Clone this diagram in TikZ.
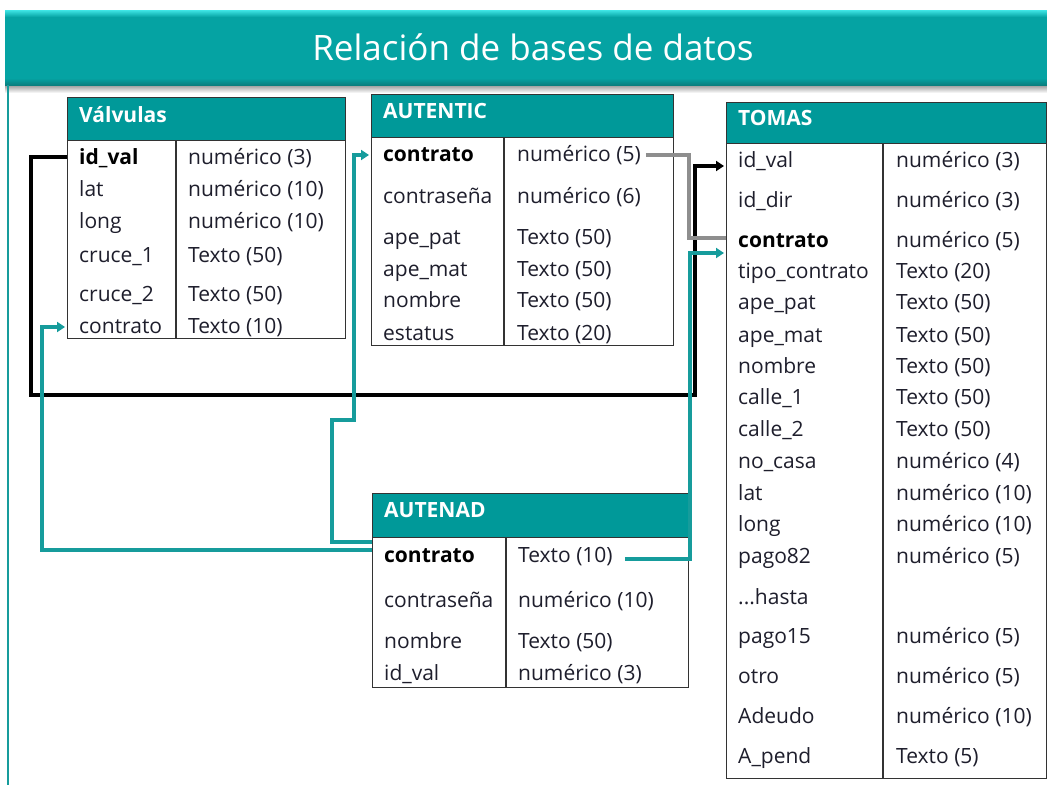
\documentclass[tikz,border=0pt]{standalone}
\usepackage{fontspec}
\setmainfont{Open Sans}
\usetikzlibrary{arrows.meta}
\definecolor{teal1}{HTML}{009999}
\definecolor{titlebar}{HTML}{05A3A3}
\definecolor{titlehi}{HTML}{3FE6E6}
\definecolor{titlelo}{HTML}{0A7F7F}
\definecolor{conn}{HTML}{169C9C}
\definecolor{txt}{HTML}{1E1E2C}
\definecolor{grayc}{HTML}{8E8E8E}
\begin{document}
\begin{tikzpicture}[x=1pt,y=-1pt,
  tbox/.style={draw=black!80, line width=1.3pt, fill=white, anchor=north west, inner sep=0pt},
  thead/.style={draw=black!80, line width=1.3pt, fill=teal1, anchor=north west, inner sep=0pt},
  htext/.style={anchor=base west, inner sep=0pt, text=white, font=\fontsize{21}{24}\selectfont\bfseries},
  fld/.style={anchor=base west, inner sep=0pt, text=txt, font=\fontsize{21}{24}\selectfont},
  keyfld/.style={anchor=base west, inner sep=0pt, text=black, font=\fontsize{21}{24}\selectfont\bfseries},
  tline/.style={draw=black!80, line width=1.3pt},
  link/.style={line width=3.6pt},
  tip/.style={-{Triangle[length=8pt,width=10pt]}, shorten >=2pt},
]
\useasboundingbox (0,0) rectangle (1047,785);
% title bar
\shade[top color=black!40, bottom color=white] (5,85) rectangle (1047,93);
\fill[titlebar] (5,10) rectangle (1047,85);
\shade[top color=titlehi, bottom color=titlebar] (5,10) rectangle (1047,17);
\shade[top color=titlebar, bottom color=titlelo] (5,78) rectangle (1047,85);
\node[text=white, font=\fontsize{35}{40}\selectfont, inner sep=0pt] (title) at (533,47) {Relación de bases de datos};
\draw[conn, line width=1.5pt] (8,85) -- (8,785);

% ---------- Válvulas
\node[tbox, minimum width=278pt, minimum height=241pt] (valv) at (67,97) {};
\node[thead, minimum width=278pt, minimum height=43pt] (valvh) at (67,97) {};
\node[htext] (valvt) at (79,122) {Válvulas};
\draw[tline] (176,140) -- (176,338);
\node[keyfld] (v-f1) at (79,164) {id\_val};
\node[fld] (v-t1) at (188,164) {numérico (3)};
\foreach \yy/\a/\b [count=\i from 2] in {196/lat/numérico (10), 228/long/numérico (10), 262/cruce\_1/Texto (50), 301/cruce\_2/Texto (50), 333/contrato/Texto (10)}{
  \node[fld] (v-f\i) at (79,\yy) {\a};
  \node[fld] (v-t\i) at (188,\yy) {\b};
}

% ---------- AUTENTIC
\node[tbox, minimum width=302pt, minimum height=251pt] (autentic) at (371,94) {};
\node[thead, minimum width=302pt, minimum height=43pt] (autentich) at (371,94) {};
\node[htext] (autentict) at (383,118) {AUTENTIC};
\draw[tline] (504,137) -- (504,345);
\node[keyfld] (a-f1) at (383,161) {contrato};
\node[fld] (a-t1) at (517,161) {numérico (5)};
\foreach \yy/\a/\b [count=\i from 2] in {203/contraseña/numérico (6), 244/ape\_pat/Texto (50), 276/ape\_mat/Texto (50), 307/nombre/Texto (50), 340/estatus/Texto (20)}{
  \node[fld] (a-f\i) at (383,\yy) {\a};
  \node[fld] (a-t\i) at (517,\yy) {\b};
}

% ---------- TOMAS
\node[tbox, minimum width=320pt, minimum height=676pt] (tomas) at (726,102) {};
\node[thead, minimum width=320pt, minimum height=41pt] (tomash) at (726,102) {};
\node[htext] (tomast) at (738,125) {TOMAS};
\draw[tline] (883,143) -- (883,778);
\node[fld] (t-f1) at (738,167) {id\_val};
\node[fld] (t-t1) at (896,167) {numérico (3)};
\node[fld] (t-f2) at (738,207) {id\_dir};
\node[fld] (t-t2) at (896,207) {numérico (3)};
\node[keyfld] (t-f3) at (738,247) {contrato};
\node[fld] (t-t3) at (896,247) {numérico (5)};
\foreach \yy/\a/\b [count=\i from 4] in {278/tipo\_contrato/Texto (20), 309/ape\_pat/Texto (50), 342/ape\_mat/Texto (50), 373/nombre/Texto (50), 404/calle\_1/Texto (50), 436/calle\_2/Texto (50), 468/no\_casa/numérico (4), 500/lat/numérico (10), 531/long/numérico (10), 563/pago82/numérico (5)}{
  \node[fld] (t-f\i) at (738,\yy) {\a};
  \node[fld] (t-t\i) at (896,\yy) {\b};
}
\node[fld] (t-f14) at (738,604) {...hasta};
\foreach \yy/\a/\b [count=\i from 15] in {643/pago15/numérico (5), 683/otro/numérico (5), 723/Adeudo/numérico (10), 763/A\_pend/Texto (5)}{
  \node[fld] (t-f\i) at (738,\yy) {\a};
  \node[fld] (t-t\i) at (896,\yy) {\b};
}

% ---------- AUTENAD
\node[tbox, minimum width=316pt, minimum height=194pt] (autenad) at (372,493) {};
\node[thead, minimum width=316pt, minimum height=44pt] (autenadh) at (372,493) {};
\node[htext] (autenadt) at (384,517) {AUTENAD};
\draw[tline] (506,537) -- (506,687);
\node[keyfld] (n-f1) at (384,562) {contrato};
\node[fld] (n-t1) at (518,562) {Texto (10)};
\foreach \yy/\a/\b [count=\i from 2] in {607/contraseña/numérico (10), 648/nombre/Texto (50), 680/id\_val/numérico (3)}{
  \node[fld] (n-f\i) at (384,\yy) {\a};
  \node[fld] (n-t\i) at (518,\yy) {\b};
}

% ---------- connectors
\draw[link, black, line width=4pt, tip] (valv.west |- 0,157) -- (31,157) -- (31,395) -- (695,395) -- (695,166) -- (tomas.west |- 0,166);
\draw[link, conn, tip] (autenad.west |- 0,550) -- (42,550) -- (42,327) -- (valv.west |- 0,327);
\draw[link, conn, tip] (autenad.west |- 0,542) -- (332,542) -- (332,420) -- (354,420) -- (354,155) -- (autentic.west |- 0,155);
\draw[link, conn, tip] ([xshift=12pt]n-t1.east |- 0,559) -- (690,559) -- (690,253) -- (tomas.west |- 0,253);
\draw[link, grayc] ([xshift=5pt]a-t1.east |- 0,155) -- (689,155) -- (689,238) -- (tomas.west |- 0,238);
\end{tikzpicture}
\end{document}
